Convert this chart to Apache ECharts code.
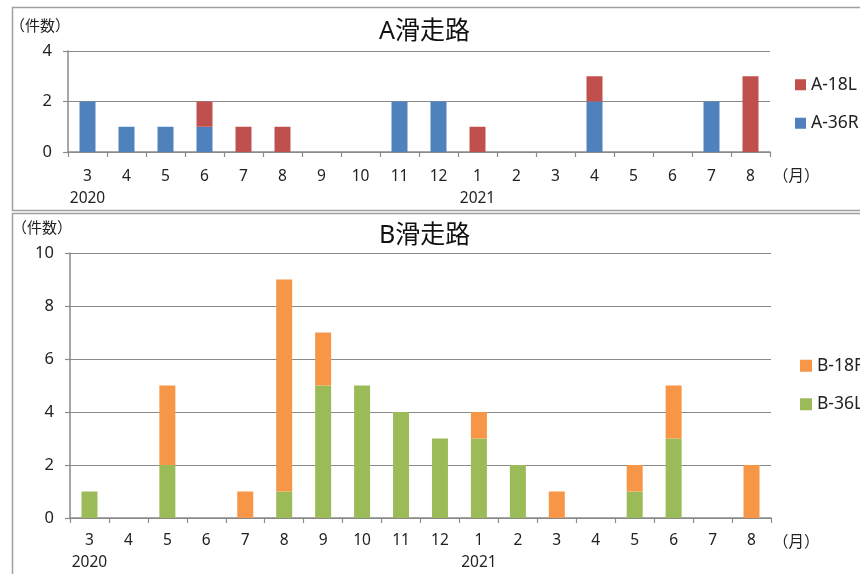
<!DOCTYPE html>
<html>
<head>
<meta charset="utf-8">
<script src="https://cdn.jsdelivr.net/npm/echarts@6/dist/echarts.min.js"></script>
<style>
  html, body { margin: 0; padding: 0; background: #fff; }
  #chart { width: 860px; height: 574px; }
</style>
</head>
<body>
<div id="chart"></div>
<script>
// Month categories, Mar 2020 – Aug 2021
const months = ['3','4','5','6','7','8','9','10','11','12','1','2','3','4','5','6','7','8'];
// Year shown under the first month of each year
const yearAt = { 0: '2020', 10: '2021' };

// A runway counts per month
const a18L = [0,0,0,1,1,1,0,0,0,0,1,0,0,1,0,0,0,3];
const a36R = [2,1,1,1,0,0,0,0,2,2,0,0,0,2,0,0,2,0];

// B runway counts per month
const b18R = [0,0,3,0,1,8,2,0,0,0,1,0,1,0,1,2,0,2];
const b36L = [1,0,2,0,0,1,5,5,4,3,3,2,0,0,1,3,0,0];

const FONT = '"Noto Sans", "Noto Sans CJK JP", sans-serif';
const CJK = '"Noto Sans CJK JP", sans-serif';
const AXIS_GRAY = '#8a8a8a';

function xAxisFor(gridIndex, margin) {
  return {
    type: 'category', gridIndex, data: months,
    axisLine: { lineStyle: { color: AXIS_GRAY, width: 1.5 } },
    axisTick: { show: true, length: 5, interval: 0, lineStyle: { color: AXIS_GRAY, width: 1.2 } },
    axisLabel: {
      interval: 0, margin, color: '#222', fontSize: 15.5, fontFamily: FONT, lineHeight: 22,
      formatter: (v, i) => yearAt[i] ? v + '\n' + yearAt[i] : v
    }
  };
}
function yAxisFor(gridIndex, max, margin) {
  return {
    type: 'value', gridIndex, min: 0, max, interval: 2,
    name: '（件数）', nameLocation: 'end', nameGap: 18,
    nameTextStyle: { color: '#222', fontSize: 15, fontFamily: CJK, align: 'right', padding: [0, -2, 0, 0] },
    axisLine: { show: true, lineStyle: { color: AXIS_GRAY, width: 1.5 } },
    axisTick: { show: true, length: 5, lineStyle: { color: AXIS_GRAY, width: 1.2 } },
    axisLabel: { margin, color: '#222', fontSize: 16.5, fontFamily: FONT },
    splitLine: { lineStyle: { color: AXIS_GRAY, width: 1.2 } }
  };
}
function bar(name, data, color, axisIndex, stack) {
  return {
    name, type: 'bar', data, stack, barWidth: 16,
    xAxisIndex: axisIndex, yAxisIndex: axisIndex,
    itemStyle: { color }
  };
}

const chart = echarts.init(document.getElementById('chart'));
chart.setOption({
  backgroundColor: '#fff',
  animation: false,
  title: [
    { text: 'A滑走路', left: 374, top: 14, textStyle: { fontSize: 25, fontWeight: 'normal', color: '#111', fontFamily: FONT } },
    { text: 'B滑走路', left: 374, top: 218, textStyle: { fontSize: 25, fontWeight: 'normal', color: '#111', fontFamily: FONT } }
  ],
  legend: [
    { data: ['A-18L', 'A-36R'], orient: 'vertical', left: 795, top: 76, padding: 0, itemWidth: 11, itemHeight: 11, itemGap: 21,
      icon: 'rect', textStyle: { fontSize: 17.5, color: '#222', fontFamily: FONT } },
    { data: ['B-18R', 'B-36L'], orient: 'vertical', left: 800, top: 357, padding: 0, itemWidth: 12, itemHeight: 12, itemGap: 21,
      icon: 'rect', textStyle: { fontSize: 17.5, color: '#222', fontFamily: FONT } }
  ],
  grid: [
    { left: 68, right: 90, top: 51, height: 101 },
    { left: 70, right: 89, top: 253, height: 267 }
  ],
  xAxis: [xAxisFor(0, 14), xAxisFor(1, 12)],
  yAxis: [yAxisFor(0, 4, 16), yAxisFor(1, 10, 16)],
  series: [
    bar('A-36R', a36R, '#4F81BD', 0, 'a'),
    bar('A-18L', a18L, '#C0504D', 0, 'a'),
    bar('B-36L', b36L, '#9BBB59', 1, 'b'),
    bar('B-18R', b18R, '#F79646', 1, 'b')
  ],
  graphic: [
    { type: 'rect', shape: { x: 12.5, y: 7.5, width: 860, height: 203 }, style: { fill: 'none', stroke: '#a0a0a0', lineWidth: 1.5 }, z: -1 },
    { type: 'rect', shape: { x: 12.5, y: 213.5, width: 860, height: 400 }, style: { fill: 'none', stroke: '#a0a0a0', lineWidth: 1.5 }, z: -1 },
    { type: 'text', left: 773, top: 167, style: { text: '（月）', fontSize: 15.5, fontFamily: CJK, fill: '#222' } },
    { type: 'text', left: 773, top: 533, style: { text: '（月）', fontSize: 15.5, fontFamily: CJK, fill: '#222' } }
  ]
});
</script>
</body>
</html>
